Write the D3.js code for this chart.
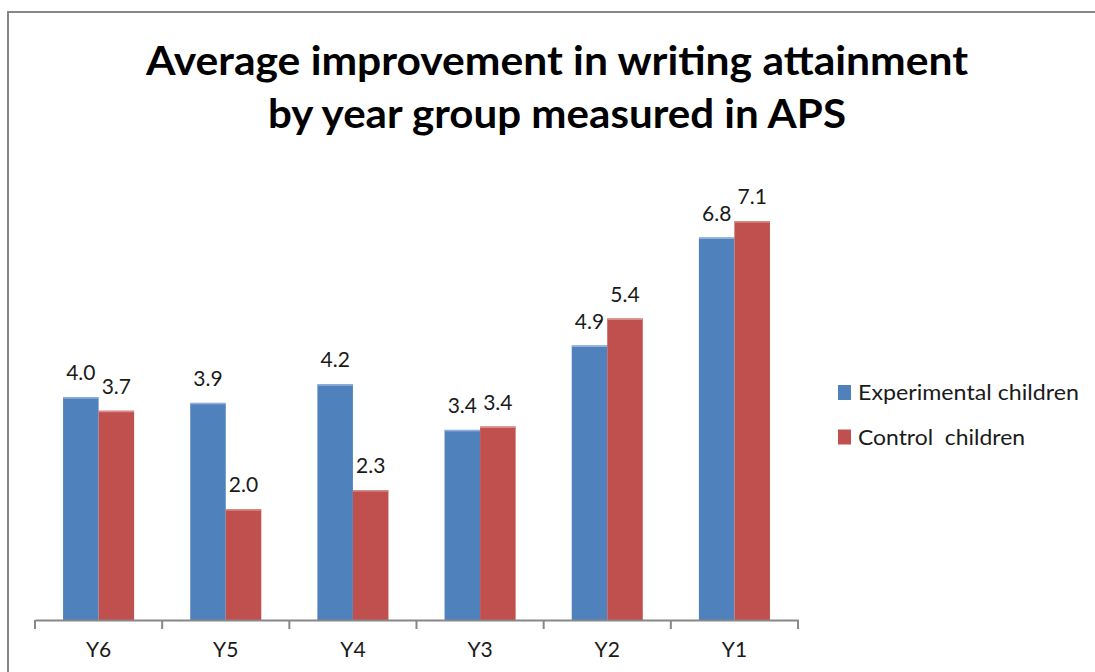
<!DOCTYPE html>
<html>
<head>
<meta charset="utf-8">
<script src="https://cdn.jsdelivr.net/npm/d3@7"></script>
<style>
  body { margin: 0; background: #fff; }
  svg { display: block; }
</style>
</head>
<body>
<div id="chart"></div>
<script>
// data
var categories = ["Y6", "Y5", "Y4", "Y3", "Y2", "Y1"]
var seriesNames = ["Experimental children", "Control  children"]
var experimental = [3.96, 3.86, 4.19, 3.38, 4.88, 6.80]
var control = [3.72, 1.97, 2.31, 3.44, 5.36, 7.09]
var titleLines = ["Average improvement in writing attainment", "by year group measured in APS"]

var colors = ["#4F81BD", "#C0504D"]
var topEdge = ["#8fb0d9", "#d98c8a"]

/**
 * draws the clustered column chart
 */
function drawChart() {
    var width = 1095
    var height = 672
    var plot = { left: 35, right: 798, top: 170, bottom: 620 }

    var svg = d3.select("#chart")
        .append("svg")
        .attr("width", width)
        .attr("height", height)

    // outer chart border (only top and left edges are in view)
    svg.append("rect")
        .attr("x", 8).attr("y", 12)
        .attr("width", 1200).attr("height", 800)
        .attr("fill", "none")
        .attr("stroke", "#878787")
        .attr("stroke-width", 2)

    // title, stretched to the width of the original lines
    var titleWidths = [822, 578]
    svg.append("g").selectAll("text")
        .data(titleLines)
        .enter()
        .append("text")
        .attr("x", 557)
        .attr("y", function (d, i) { return 75 + i * 53 })
        .attr("text-anchor", "middle")
        .attr("textLength", function (d, i) { return titleWidths[i] })
        .attr("lengthAdjust", "spacingAndGlyphs")
        .style("font-family", "Lato, sans-serif")
        .style("font-weight", "bold")
        .style("font-size", "40px")
        .attr("fill", "#000")
        .text(function (d) { return d })

    var x0 = d3.scaleBand()
        .domain(categories)
        .range([plot.left, plot.right])
        .padding(0)

    var x1 = d3.scaleBand()
        .domain(seriesNames)
        .range([0, x0.bandwidth()])
        .paddingInner(0)
        .paddingOuter(0.79)

    var y = d3.scaleLinear()
        .domain([0, 8])
        .range([plot.bottom, plot.top])

    var rows = categories.map(function (c, i) {
        return { cat: c, values: [experimental[i], control[i]] }
    })

    var groups = svg.append("g").selectAll("g")
        .data(rows)
        .enter()
        .append("g")
        .attr("transform", function (d) { return "translate(" + x0(d.cat) + ",0)" })

    var bars = groups.selectAll("g")
        .data(function (d) {
            return d.values.map(function (v, j) { return { key: seriesNames[j], j: j, value: v } })
        })
        .enter()
        .append("g")

    bars.append("rect")
        .attr("x", function (d) { return x1(d.key) })
        .attr("y", function (d) { return y(d.value) })
        .attr("width", x1.bandwidth())
        .attr("height", function (d) { return y(0) - y(d.value) })
        .attr("fill", function (d) { return colors[d.j] })

    // light bevel on the top edge of each bar
    bars.append("rect")
        .attr("x", function (d) { return x1(d.key) })
        .attr("y", function (d) { return y(d.value) })
        .attr("width", x1.bandwidth())
        .attr("height", 1.5)
        .attr("fill", function (d) { return topEdge[d.j] })

    // value labels
    bars.append("text")
        .attr("x", function (d) { return x1(d.key) + x1.bandwidth() / 2 })
        .attr("y", function (d) { return y(d.value) - 17 })
        .attr("text-anchor", "middle")
        .style("font-family", "Lato, sans-serif")
        .style("font-size", "21px")
        .attr("fill", "#1a1a1a")
        .text(function (d) { return d3.format(".1f")(d.value) })

    // category axis
    var axis = svg.append("g")
        .attr("transform", "translate(0," + plot.bottom + ")")
        .call(d3.axisBottom(x0).tickSize(0).tickPadding(22))
    axis.select(".domain")
        .attr("stroke", "#878787")
        .attr("stroke-width", 2)
    axis.selectAll("text")
        .style("font-family", "Lato, sans-serif")
        .style("font-size", "21px")
        .attr("fill", "#1a1a1a")

    // tick marks between categories, like the spreadsheet chart
    var bounds = categories.map(function (c) { return x0(c) }).concat([plot.right])
    svg.append("g").selectAll("line")
        .data(bounds)
        .enter()
        .append("line")
        .attr("x1", function (d) { return d }).attr("x2", function (d) { return d })
        .attr("y1", plot.bottom).attr("y2", plot.bottom + 9)
        .attr("stroke", "#878787")
        .attr("stroke-width", 2)

    // legend
    var legendWidths = [221, 167]
    var legend = svg.append("g").selectAll("g")
        .data(seriesNames)
        .enter()
        .append("g")
        .attr("transform", function (d, i) { return "translate(838," + (385 + i * 44.5) + ")" })

    legend.append("rect")
        .attr("width", 13).attr("height", 15)
        .attr("fill", function (d, i) { return colors[i] })

    legend.append("text")
        .attr("x", 20).attr("y", 15)
        .attr("textLength", function (d, i) { return legendWidths[i] })
        .attr("lengthAdjust", "spacingAndGlyphs")
        .style("font-family", "Lato, sans-serif")
        .style("font-size", "22px")
        .attr("fill", "#1a1a1a")
        .style("white-space", "pre")
        .text(function (d) { return d })
}

drawChart()
</script>
</body>
</html>
